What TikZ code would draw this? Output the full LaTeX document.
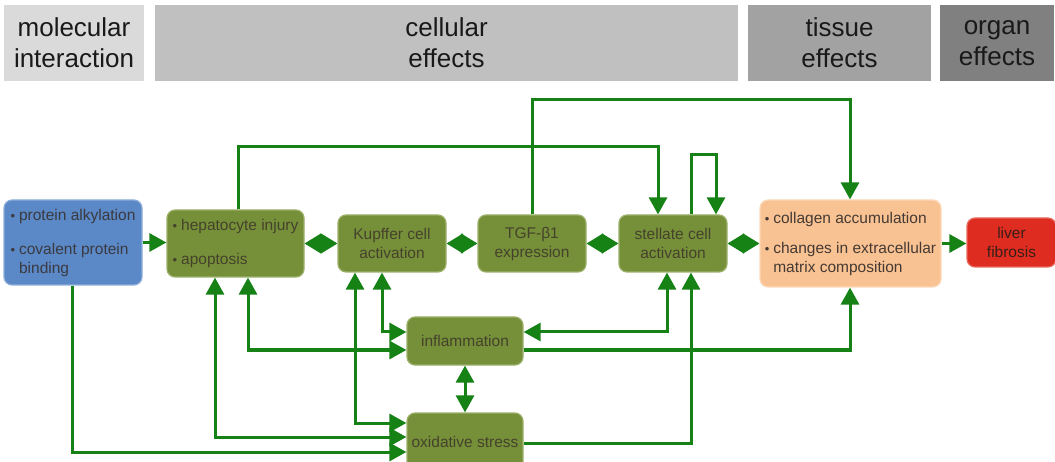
\documentclass[tikz,border=0pt]{standalone}
\usepackage{fontspec}
\setmainfont{Liberation Sans}
\usetikzlibrary{arrows.meta,calc}
\definecolor{arrg}{HTML}{168216}
\definecolor{hA}{HTML}{DADADA}
\definecolor{hB}{HTML}{C0C0C0}
\definecolor{hC}{HTML}{A2A2A2}
\definecolor{hD}{HTML}{808080}
\definecolor{gfill}{HTML}{76903A}
\definecolor{gborder}{HTML}{9CB06A}
\definecolor{gtext}{HTML}{45422B}
\definecolor{bfill}{HTML}{5B88C6}
\definecolor{bborder}{HTML}{8DAEDB}
\definecolor{btext}{HTML}{3A3A40}
\definecolor{ofill}{HTML}{F9C293}
\definecolor{oborder}{HTML}{FCD9BA}
\definecolor{otext}{HTML}{453A33}
\definecolor{rfill}{HTML}{DE2D20}
\definecolor{rborder}{HTML}{E86A5F}
\definecolor{rtext}{HTML}{3A1E18}
\newcommand\bu{\makebox[8.5pt][l]{\raisebox{-0.3pt}{\fontsize{13}{13}\selectfont\textbullet}}}
\begin{document}
\begin{tikzpicture}[x=1pt,y=-1pt,
  hdr/.style={inner sep=0pt, align=center, font=\fontsize{26}{31}\selectfont, text=black!90, minimum height=76pt},
  box/.style={rounded corners=8pt, line width=1.2pt, inner sep=0pt, align=center, font=\fontsize{15.5}{19}\selectfont},
  gbox/.style={box, fill=gfill, draw=gborder, text=gtext},
  lbox/.style={box, align=left},
  arr/.style={draw=arrg, line width=3pt, -{Triangle[length=17pt,width=18pt]}},
  barr/.style={draw=arrg, line width=3pt, {Triangle[length=17pt,width=18pt]}-{Triangle[length=17pt,width=18pt]}},
  dia/.style={draw=arrg, line width=1pt, {Triangle[length=16.5pt,width=20pt]}-{Triangle[length=16.5pt,width=20pt]}}
]
\clip (0,0) rectangle (1055,462);
\fill[white] (0,0) rectangle (1055,462);

% header bands
\node[hdr, fill=hA, minimum width=140pt] (mol) at (74,43) {molecular\\interaction};
\node[hdr, fill=hB, minimum width=583pt] (cel) at (446.5,43) {cellular\\effects};
\node[hdr, fill=hC, minimum width=183pt] (tis) at (839.5,43) {tissue\\effects};
\node[hdr, fill=hD, minimum width=114pt] (org) at (997,43) {organ\\effects};

% boxes
\node[lbox, fill=bfill, draw=bborder, text=btext, minimum width=138pt, minimum height=85pt] (blue) at (73,242.5)
  {\bu protein alkylation\\[15pt]\bu covalent protein\\\hspace*{8.5pt}binding};
\node[gbox, align=left, minimum width=137pt, minimum height=67pt] (hep) at (235.5,243.5)
  {\bu hepatocyte injury\\[15pt]\bu apoptosis};
\node[gbox, minimum width=108pt, minimum height=57pt] (kup) at (392,243.5) {Kupffer cell\\activation};
\node[gbox, minimum width=108pt, minimum height=57pt] (tgf) at (532,243.5) {TGF-β1\\expression};
\node[gbox, minimum width=108pt, minimum height=57pt] (stel) at (673,243.5) {stellate cell\\activation};
\node[lbox, fill=ofill, draw=oborder, text=otext, minimum width=181pt, minimum height=87pt] (coll) at (850.5,243.5)
  {\bu collagen accumulation\\[11pt]\bu changes in extracellular\\\hspace*{8.5pt}matrix composition};
\node[box, fill=rfill, draw=rborder, text=rtext, minimum width=89pt, minimum height=49pt] (fib) at (1011.5,242.5) {liver\\fibrosis};
\node[gbox, minimum width=116pt, minimum height=48pt] (infl) at (465,341) {inflammation};
\node[gbox, minimum width=116pt, minimum height=57pt] (ox) at (465,441.5) {oxidative stress};

% main chain
\draw[arr] (blue.east) -- (blue.east -| hep.west);
\draw[dia] (hep.east) -- (kup.west);
\draw[dia] (kup.east) -- (tgf.west);
\draw[dia] (tgf.east) -- (stel.west);
\draw[dia] (stel.east) -- (coll.west);
\draw[arr] (coll.east) -- (coll.east -| fib.west);

% top loops
\draw[arr] (238,0 |- hep.north) |- (658,147) -- (658,0 |- stel.north);
\draw[arr] (tgf.north) |- (850,100) -- (850,0 |- coll.north);
\draw[arr] (691,0 |- stel.north) |- (716,155) -- (716,0 |- stel.north);

% lower connections
\draw[arr] (72,0 |- blue.south) |- (ox.west |- 0,452);
\draw[barr] (215,0 |- hep.south) |- (ox.west |- 0,437);
\draw[barr] (355,0 |- kup.south) |- (ox.west |- 0,423);
\draw[barr] (248,0 |- hep.south) |- (infl.west |- 0,350);
\draw[barr] (382,0 |- kup.south) |- (infl.west |- 0,332);
\draw[barr] (667,0 |- stel.south) |- (infl.east |- 0,332);
\draw[arr] (infl.east |- 0,350) -| (850,0 |- coll.south);
\draw[arr] (ox.east |- 0,443) -| (691,0 |- stel.south);
\draw[barr] (infl.south) -- (ox.north);
\end{tikzpicture}
\end{document}
